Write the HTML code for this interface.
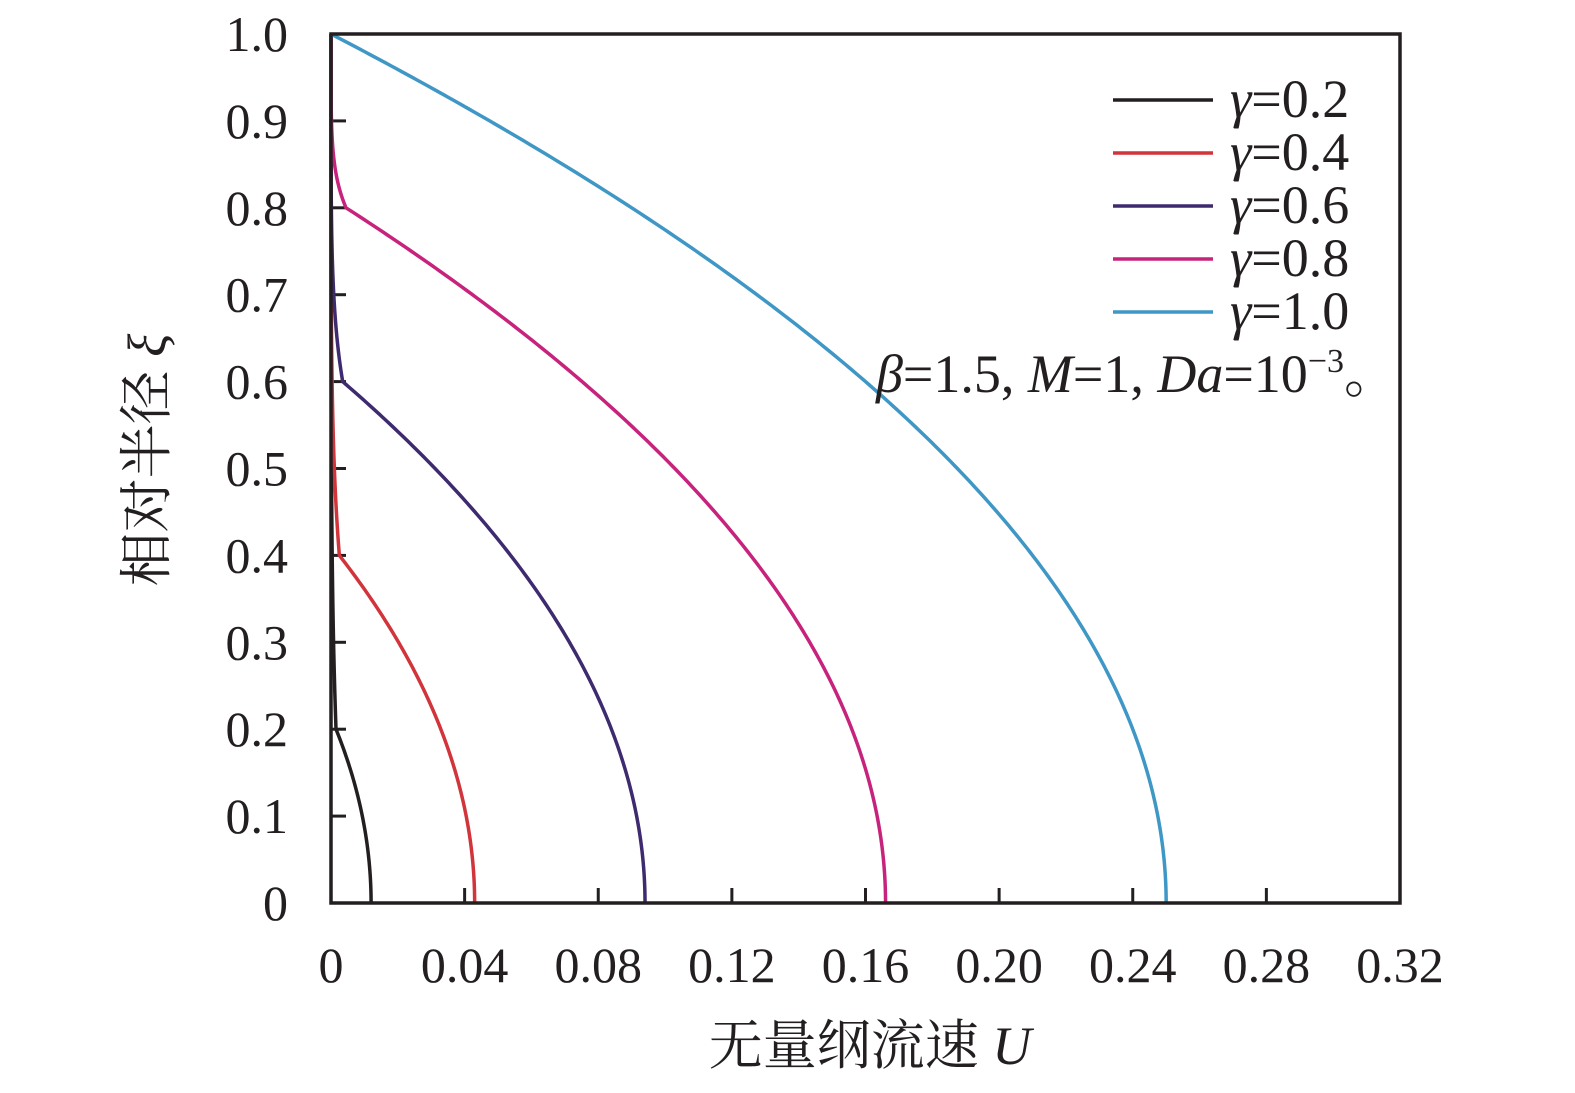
<!DOCTYPE html><html><head><meta charset="utf-8"><style>body{margin:0;background:#fff}svg{display:block}text{font-family:"Liberation Serif","Noto Serif CJK SC",serif;fill:#231f20}</style></head><body>
<svg id="s" width="1575" height="1093" xmlns="http://www.w3.org/2000/svg">
<g id="ticks" stroke="#231f20" stroke-width="3"></g>
<g id="curves" fill="none" stroke-width="3.5"></g>
<rect x="331" y="34" width="1069" height="869" fill="none" stroke="#231f20" stroke-width="3.5"/>
<g font-size="50" id="lab"></g>
<g stroke-width="3.5">
<line x1="1113" y1="100" x2="1213" y2="100" stroke="#231f20"/>
<line x1="1113" y1="153" x2="1213" y2="153" stroke="#d1343a"/>
<line x1="1113" y1="206" x2="1213" y2="206" stroke="#3e2a6e"/>
<line x1="1113" y1="259" x2="1213" y2="259" stroke="#c7237c"/>
<line x1="1113" y1="312" x2="1213" y2="312" stroke="#3f97c6"/>
</g>
<g font-size="54">
<text x="1230" y="117"><tspan font-style="italic">γ</tspan>=0.2</text>
<text x="1230" y="170"><tspan font-style="italic">γ</tspan>=0.4</text>
<text x="1230" y="223"><tspan font-style="italic">γ</tspan>=0.6</text>
<text x="1230" y="276"><tspan font-style="italic">γ</tspan>=0.8</text>
<text x="1230" y="329"><tspan font-style="italic">γ</tspan>=1.0</text>
<text x="1398" y="392" text-anchor="end"><tspan font-style="italic">β</tspan>=1.5, <tspan font-style="italic">M</tspan>=1, <tspan font-style="italic">Da</tspan>=10<tspan font-size="34" dy="-20">−3</tspan><tspan dy="20">。</tspan></text>
<text x="870" y="1064" text-anchor="middle">无量纲流速 <tspan font-style="italic">U</tspan></text>
<text transform="translate(165,460) rotate(-90)" text-anchor="middle">相对半径 <tspan font-style="italic">ξ</tspan></text>
</g>
</svg>
<script>
var X=u=>331+u*1069/0.32, Y=v=>903-v*869;
var t=document.getElementById('ticks'),l=document.getElementById('lab'),h='',lh='';
for(var i=1;i<8;i++){var x=X(i*0.04);h+=`<line x1="${x}" y1="903" x2="${x}" y2="888"/>`;}
for(var i=0;i<=8;i++){var x=X(i*0.04);lh+=`<text x="${x}" y="982" text-anchor="middle">${i==0?'0':(i*0.04).toFixed(2)}</text>`;}
for(var i=1;i<10;i++){var y=Y(i/10);h+=`<line x1="331" y1="${y}" x2="346" y2="${y}"/>`;}
for(var i=0;i<=10;i++){var y=Y(i/10);lh+=`<text x="288" y="${y+17}" text-anchor="end">${i==0?'0':(i/10).toFixed(1)}</text>`;}
t.innerHTML=h;l.innerHTML=lh;
var C=[[0.2,0.012,'#231f20'],[0.4,0.043,'#d1343a'],[0.6,0.094,'#3e2a6e'],[0.8,0.166,'#c7237c'],[1.0,0.250,'#3f97c6']];
var ch='';
C.forEach(function(c){var g=c[0],M=c[1],a=g<1?0.004*g/0.8+0.0005:0,d='';
for(var k=0;k<=300;k++){var v=k/300,u;
if(v<=g)u=a+(M-a)*(1-Math.pow(v/g,2));else{var s=(v-g)/(1-g);u=a*Math.pow(1-s,5);}
d+=(k?'L':'M')+X(u).toFixed(2)+' '+Y(v).toFixed(2);}
ch+=`<path d="${d}" stroke="${c[2]}"/>`;});
document.getElementById('curves').innerHTML=ch;
</script>
</body></html>
